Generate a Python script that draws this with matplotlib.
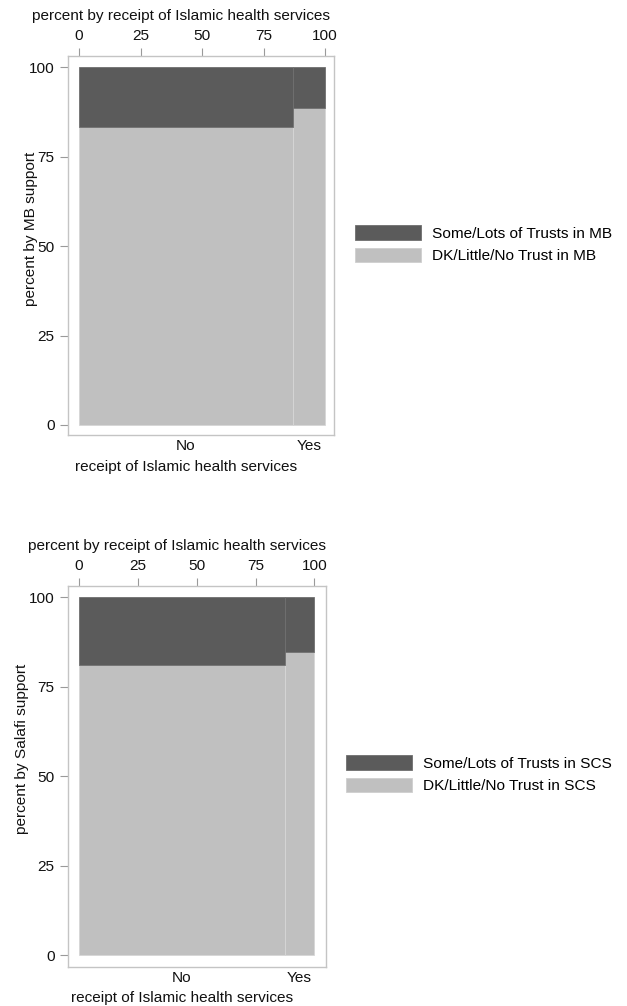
import matplotlib
matplotlib.use("Agg")
import matplotlib.pyplot as plt
from matplotlib.patches import Patch
import numpy as np

plt.rcParams['font.family'] = ['Liberation Sans', 'DejaVu Sans']

categories = ["No", "Yes"]
pct_receipt_top = [87.0, 13.0]
mb_low = [83.4, 88.7]      # DK/Little/No Trust in MB
mb_high = [16.6, 11.3]     # Some/Lots of Trusts in MB
pct_receipt_bot = [87.3, 12.7]
scs_low = [81.0, 84.7]     # DK/Little/No Trust in SCS
scs_high = [19.0, 15.3]    # Some/Lots of Trusts in SCS
top_ticks = [0, 25, 50, 75, 100]
y_ticks = [0, 25, 50, 75, 100]

DARK = "#5b5b5b"
LIGHT = "#c0c0c0"
FRAME = "#c4c4c4"
TXT = "#111111"
W, H = 627, 1006
FS = 11.1

fig = plt.figure(figsize=(W / 100, H / 100), dpi=100)


def ftext(x, y, s, **kw):
    fig.text(x / W, 1 - y / H, s, fontsize=FS, color=TXT, **kw)


def panel(box, xlim, ylim, widths, low, high, ylabel, ylab_xy, legend_labels, leg_xy,
          xlab_xy, toplab_xy):
    l, t, r, b = box
    ax = fig.add_axes([l / W, 1 - b / H, (r - l) / W, (b - t) / H])
    lefts = np.concatenate([[0], np.cumsum(widths)[:-1]])
    ax.bar(lefts, low, width=widths, align='edge', color=LIGHT,
           edgecolor='#d6d6d6', linewidth=0.6)
    ax.bar(lefts, high, width=widths, bottom=low, align='edge', color=DARK,
           edgecolor='#707070', linewidth=0.6)
    ax.set_xlim(*xlim)
    ax.set_ylim(*ylim)
    for s in ax.spines.values():
        s.set_color(FRAME)
        s.set_linewidth(1.0)
    ax.xaxis.tick_top()
    ax.set_xticks(top_ticks)
    ax.set_yticks(y_ticks)
    ax.tick_params(axis='both', length=5.5, width=0.8, color='#9a9a9a',
                   labelsize=FS, labelcolor=TXT, pad=4)
    # bottom category axis
    sec = ax.secondary_xaxis('bottom')
    mids = lefts + np.array(widths) / 2
    sec.set_xticks(mids, categories)
    sec.tick_params(length=0, labelsize=FS, labelcolor=TXT, pad=3.2)
    sec.spines['bottom'].set_visible(False)
    ftext(toplab_xy[0], toplab_xy[1], "percent by receipt of Islamic health services",
          ha='center', va='center')
    ftext(xlab_xy[0], xlab_xy[1], "receipt of Islamic health services",
          ha='center', va='center')
    ftext(ylab_xy[0], ylab_xy[1], ylabel, rotation=90, ha='center', va='center')
    handles = [Patch(facecolor=DARK, edgecolor='#6e6e6e', linewidth=0.6),
               Patch(facecolor=LIGHT, edgecolor='#cfcfcf', linewidth=0.6)]
    fig.legend(handles, legend_labels, loc='upper left',
               bbox_to_anchor=(leg_xy[0] / W, 1 - leg_xy[1] / H),
               frameon=False, fontsize=FS, handlelength=4.3, handleheight=1.1,
               labelspacing=0.45, handletextpad=0.7, borderpad=0,
               borderaxespad=0)
    return ax


ax1 = panel((67.7, 55.7, 334, 435), (-4.6, 103.66), (-2.8, 103.2),
            pct_receipt_top, mb_low, mb_high, "percent by MB support",
            (31.5, 228.5),
            ["Some/Lots of Trusts in MB", "DK/Little/No Trust in MB"],
            (355, 225), (186, 466.5), (181.5, 16))
ax2 = panel((67.7, 585.7, 326, 966.7), (-4.8, 104.9), (-3.13, 103.24),
            pct_receipt_bot, scs_low, scs_high, "percent by Salafi support",
            (21.7, 749),
            ["Some/Lots of Trusts in SCS", "DK/Little/No Trust in SCS"],
            (345.7, 755), (181.7, 998), (177, 546))

fig.savefig("out.png", dpi=100, facecolor='white')
